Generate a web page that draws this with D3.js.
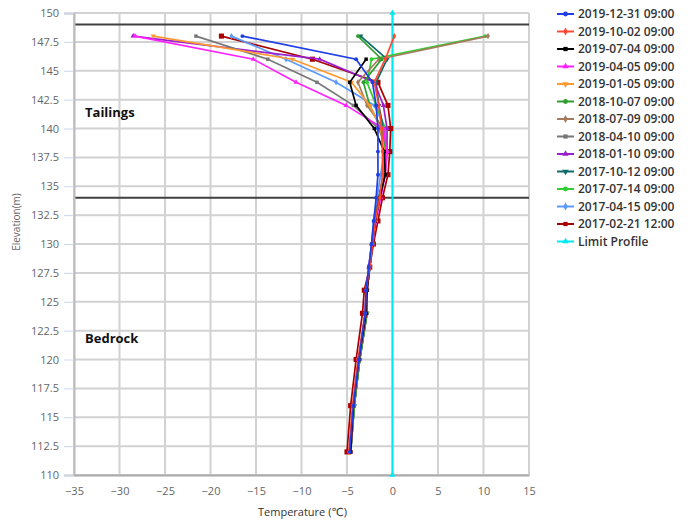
<!DOCTYPE html>
<html>
<head>
<meta charset="utf-8">
<script src="https://cdn.jsdelivr.net/npm/d3@7"></script>
<style>
    body { margin: 0; background: #fff; }
    svg { font-family: "Open Sans", "DejaVu Sans", sans-serif; }
</style>
</head>
<body>
<div class="chart-container"></div>
<script>
// elevations (m) where the thermistors sit
const elevations = [148, 146, 144, 142, 140, 138, 136, 134, 132, 130, 128, 126, 124, 120, 116, 112];

const seriesNames = [
    "2019-12-31 09:00",
    "2019-10-02 09:00",
    "2019-07-04 09:00",
    "2019-04-05 09:00",
    "2019-01-05 09:00",
    "2018-10-07 09:00",
    "2018-07-09 09:00",
    "2018-04-10 09:00",
    "2018-01-10 09:00",
    "2017-10-12 09:00",
    "2017-07-14 09:00",
    "2017-04-15 09:00",
    "2017-02-21 12:00"
];

// temperatures (degC), one row per series, same order as elevations (null = no reading)
const temps = [
    [-16.5, -4.0, -2.2, -1.8, -1.6, -1.6, -1.6, -1.8, -2.05, -2.3, -2.6, -2.9, -3.0, -3.7, -4.3, -4.7],
    [0.2, -0.8, -2.0, -1.5, -1.2, -1.1, -1.1, -1.4, -1.9, -2.2, -2.5, -2.9, -3.0, -3.8, -4.4, -4.8],
    [null, -2.9, -4.7, -4.0, -2.0, -0.9, -0.8, -1.4, -1.9, -2.2, -2.5, -2.8, -2.9, -3.7, -4.3, -4.6],
    [-28.3, -15.3, -10.6, -5.1, -1.0, -0.6, -0.8, -1.3, -1.8, -2.2, -2.5, -2.8, -2.9, -3.7, -4.3, -4.6],
    [-26.3, -11.0, -4.5, -2.5, -1.3, -0.9, -0.9, -1.4, -1.9, -2.2, -2.5, -2.8, -2.9, -3.7, -4.3, -4.6],
    [-3.8, -1.2, -3.2, -2.5, -1.2, -0.8, -0.9, -1.5, -1.9, -2.2, -2.5, -2.8, -2.8, -3.6, -4.2, -4.6],
    [10.5, -1.5, -3.8, -2.8, -1.0, -0.7, -0.9, -1.4, -1.9, -2.2, -2.5, -2.8, -2.8, -3.6, -4.2, -4.6],
    [-21.6, -13.7, -8.3, -4.3, -1.5, -0.6, -0.8, -1.4, -1.9, -2.2, -2.5, -2.8, -2.8, -3.6, -4.2, -4.6],
    [-28.5, -8.0, -2.0, -1.0, -0.6, -0.6, -0.9, -1.5, -2.0, -2.3, -2.6, -2.9, -3.0, -3.7, -4.3, -4.7],
    [-3.5, -0.6, -1.8, -1.5, -1.0, -0.8, -1.0, -1.5, -1.9, -2.2, -2.5, -2.8, -2.8, -3.6, -4.2, -4.6],
    [10.2, -2.3, -2.8, -1.8, -0.8, -0.7, -0.9, -1.5, -1.9, -2.2, -2.5, -2.8, -2.8, -3.6, -4.2, -4.6],
    [-17.7, -11.7, -6.2, -2.0, -0.8, -0.9, -1.3, -1.7, -2.1, -2.3, -2.6, -2.9, -3.0, -3.7, -4.3, -4.7],
    [-18.8, -8.8, -1.6, -0.5, -0.2, -0.3, -0.5, -1.1, -1.6, -2.1, -2.5, -3.1, -3.3, -4.0, -4.6, -5.0]
];

const limitTemps = [0, 0];
const limitElevations = [150, 110];

// layer boundaries and labels
const boundaries = [149, 134];
const layerNames = ["Tailings", "Bedrock"];
const layerElevations = [141.4, 121.85];

const xTicks = [-35, -30, -25, -20, -15, -10, -5, 0, 5, 10, 15];
const yTicks = [110, 112.5, 115, 117.5, 120, 122.5, 125, 127.5, 130, 132.5, 135, 137.5, 140, 142.5, 145, 147.5, 150];

const colors = ["#1f3ee6", "#ff4a33", "#000000", "#ff22ff", "#ff9933", "#2f9e2f", "#a57b5c", "#777777",
    "#9b1fcf", "#0b6b6b", "#33cc33", "#5b9bff", "#a80000"];
const limitColor = "#00e8f0";

const Chart = {
    width: 694,
    height: 522,
    left: 74,
    right: 529,
    top: 13,
    bottom: 475,
    svg: {},
    xScale: {},
    yScale: {},
    symbols: [
        d3.symbolCircle,
        d3.symbolDiamond,
        d3.symbolSquare,
        d3.symbolTriangle,
        "down"
    ],
    load: function() {
        this.xScale = d3.scaleLinear()
            .domain([-35, 15])
            .range([this.left, this.right]);

        this.yScale = d3.scaleLinear()
            .domain([110, 150])
            .range([this.bottom, this.top]);

        this.svg = d3.select(".chart-container")
            .append("svg")
            .attr("width", this.width)
            .attr("height", this.height);

        this.drawGrid();
        this.drawAxes();
        this.drawSeries();
        this.drawLegend();
    },
    drawGrid: function() {
        const grid = this.svg.append("g");

        grid.selectAll("line.vgrid")
            .data(xTicks)
            .enter().append("line")
            .attr("class", "vgrid")
            .attr("x1", (d) => this.xScale(d))
            .attr("x2", (d) => this.xScale(d))
            .attr("y1", this.top)
            .attr("y2", this.bottom)
            .attr("stroke", "#d2d2d2")
            .attr("stroke-width", 2);

        grid.selectAll("line.hgrid")
            .data(yTicks)
            .enter().append("line")
            .attr("class", "hgrid")
            .attr("x1", this.left)
            .attr("x2", this.right)
            .attr("y1", (d) => this.yScale(d))
            .attr("y2", (d) => this.yScale(d))
            .attr("stroke", "#d2d2d2")
            .attr("stroke-width", 2);

        grid.selectAll("line.boundary")
            .data(boundaries)
            .enter().append("line")
            .attr("class", "boundary")
            .attr("x1", this.left)
            .attr("x2", this.right)
            .attr("y1", (d) => this.yScale(d))
            .attr("y2", (d) => this.yScale(d))
            .attr("stroke", "#404040")
            .attr("stroke-width", 2);

        grid.selectAll("text.layer")
            .data(layerNames)
            .enter().append("text")
            .attr("class", "layer")
            .attr("x", this.left + 11)
            .attr("y", (d, i) => this.yScale(layerElevations[i]) + 5)
            .attr("font-size", 13)
            .attr("font-weight", "bold")
            .attr("fill", "#111")
            .text((d) => d);
    },
    drawAxes: function() {
        const yAxis = this.svg.append("g")
            .attr("transform", `translate(${this.left}, 0)`)
            .call(d3.axisLeft(this.yScale).tickValues(yTicks).tickSize(10).tickPadding(5)
                .tickFormat((d) => d));
        yAxis.select(".domain").attr("stroke", "#bbbbbb").attr("stroke-width", 2);
        yAxis.selectAll(".tick line").attr("stroke", "#ccd6eb");
        yAxis.selectAll(".tick text")
            .attr("fill", "#666")
            .attr("font-size", 11)
            .attr("font-family", "Open Sans, sans-serif");

        const xAxis = this.svg.append("g")
            .attr("transform", `translate(0, ${this.bottom})`)
            .call(d3.axisBottom(this.xScale).tickValues(xTicks).tickSize(0).tickPadding(12)
                .tickFormat((d) => d < 0 ? "\u2212" + Math.abs(d) : d));
        xAxis.select(".domain").attr("stroke", "#aaaaaa").attr("stroke-width", 2);
        xAxis.selectAll(".tick text")
            .attr("fill", "#666")
            .attr("font-size", 11)
            .attr("font-family", "Open Sans, sans-serif");

        this.svg.append("text")
            .attr("x", (this.left + this.right) / 2 + 1)
            .attr("y", 516)
            .attr("text-anchor", "middle")
            .attr("font-size", 11)
            .attr("fill", "#333")
            .text("Temperature (\u2103)");

        this.svg.append("text")
            .attr("transform", "translate(20, 222) rotate(-90)")
            .attr("text-anchor", "middle")
            .attr("font-size", 10)
            .attr("fill", "#666")
            .text("Elevation(m)");
    },
    symbolPath: function(i, size) {
        const s = this.symbols[i % this.symbols.length];
        if (s == "down") return d3.symbol(d3.symbolTriangle, size)();
        return d3.symbol(s, size)();
    },
    symbolRotate: function(i) {
        return this.symbols[i % this.symbols.length] == "down" ? " rotate(180)" : "";
    },
    drawSeries: function() {
        const line = d3.line()
            .defined((d) => d[0] != null)
            .x((d) => this.xScale(d[0]))
            .y((d) => this.yScale(d[1]));

        const plot = this.svg.append("g");

        // limit profile
        const limitData = limitTemps.map((t, i) => [t, limitElevations[i]]);
        plot.append("path")
            .attr("d", line(limitData))
            .attr("fill", "none")
            .attr("stroke", limitColor)
            .attr("stroke-width", 2);
        plot.selectAll("path.limit-marker")
            .data(limitData)
            .enter().append("path")
            .attr("class", "limit-marker")
            .attr("d", this.symbolPath(13, 16))
            .attr("transform", (d) => `translate(${this.xScale(d[0])}, ${this.yScale(d[1])})`)
            .attr("fill", limitColor);

        // draw oldest first so the newest ends on top
        for (let i = temps.length - 1; i >= 0; i--) {
            const data = temps[i].map((t, j) => [t, elevations[j]]);
            const g = plot.append("g");
            g.append("path")
                .attr("d", line(data))
                .attr("fill", "none")
                .attr("stroke", colors[i])
                .attr("stroke-width", 1.7);
            g.selectAll("path.marker")
                .data(data.filter((d) => d[0] != null))
                .enter().append("path")
                .attr("class", "marker")
                .attr("d", this.symbolPath(i, i == 12 ? 26 : 12))
                .attr("transform", (d) => `translate(${this.xScale(d[0])}, ${this.yScale(d[1])})${this.symbolRotate(i)}`)
                .attr("fill", colors[i]);
        }
    },
    drawLegend: function() {
        const names = seriesNames.concat(["Limit Profile"]);
        const cols = colors.concat([limitColor]);

        const items = this.svg.append("g")
            .selectAll("g.legend")
            .data(names)
            .enter().append("g")
            .attr("class", "legend")
            .attr("transform", (d, i) => `translate(557, ${14 + i * 17.5})`);

        items.append("line")
            .attr("x1", 0)
            .attr("x2", 17)
            .attr("stroke", (d, i) => cols[i])
            .attr("stroke-width", 2);

        items.append("path")
            .attr("d", (d, i) => this.symbolPath(i, 18))
            .attr("transform", (d, i) => "translate(8.5, 0)" + this.symbolRotate(i))
            .attr("fill", (d, i) => cols[i]);

        items.append("text")
            .attr("x", 21)
            .attr("y", 4)
            .attr("font-size", 12)
            .attr("font-weight", 600)
            .attr("fill", "#333")
            .text((d) => d);
    }
};

Chart.load();
</script>
</body>
</html>
